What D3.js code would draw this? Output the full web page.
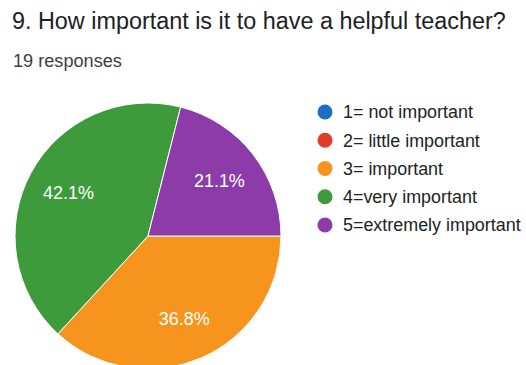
<!DOCTYPE html>
<html>
<head>
<meta charset="utf-8">
<script src="https://cdn.jsdelivr.net/npm/d3@7"></script>
<style>
  body { margin: 0; background: #fff; }
  svg { display: block; font-family: "Liberation Sans", Arial, sans-serif; }
</style>
</head>
<body>
<div id="chart"></div>
<script>
const TITLE = "9. How important is it to have a helpful teacher?";
const SUBTITLE = "19 responses";
const labels = ["1= not important", "2= little important", "3= important", "4=very important", "5=extremely important"];
const counts = [0, 0, 7, 8, 4];
const colors = ["#1e6ec5", "#e33b2a", "#f7941d", "#3e9b3c", "#8c3ba8"];

const W = 526, H = 365;
const svg = d3.select("#chart").append("svg").attr("width", W).attr("height", H);

// scale a text's font so its width matches what the reference shows
function fitSize(sel, target, base) {
  sel.attr("font-size", base);
  const w = sel.node().getComputedTextLength();
  const s = base * target / w;
  sel.attr("font-size", s);
  return s;
}

const title = svg.append("text").attr("x", 12).attr("y", 29)
  .attr("fill", "#202124").text(TITLE);
fitSize(title, 494, 20);

const sub = svg.append("text").attr("x", 13).attr("y", 67)
  .attr("fill", "#3c4043").text(SUBTITLE);
fitSize(sub, 109, 14);

const data = labels.map((l, i) => ({label: l, value: counts[i], color: colors[i]}));
const total = d3.sum(counts);

const cx = 148, cy = 236, R = 133;
const pie = d3.pie().value(d => d.value).sort(null)
  .startAngle(Math.PI / 2).endAngle(Math.PI / 2 + 2 * Math.PI);
const arc = d3.arc().innerRadius(0).outerRadius(R);
const labelArc = d3.arc().innerRadius(R * 0.68).outerRadius(R * 0.68);

const g = svg.append("g").attr("transform", `translate(${cx},${cy})`);
const arcs = pie(data).filter(d => d.data.value > 0);

g.selectAll("path").data(arcs).join("path")
  .attr("d", arc)
  .attr("fill", d => d.data.color)
  .attr("stroke", "#fff").attr("stroke-width", 1);

const pct = g.selectAll("text").data(arcs).join("text")
  .attr("transform", d => `translate(${labelArc.centroid(d)})`)
  .attr("text-anchor", "middle").attr("dy", "0.35em")
  .attr("fill", "#fff")
  .text(d => (d.data.value / total * 100).toFixed(1) + "%");
const pctSize = fitSize(d3.select(pct.nodes()[1]), 51, 16);
pct.attr("font-size", pctSize);

// legend
const ly = d3.scalePoint().domain(labels).range([112, 225]);
const leg = svg.append("g").selectAll("g").data(data).join("g")
  .attr("transform", d => `translate(325,${ly(d.label)})`);
leg.append("circle").attr("r", 7.5).attr("fill", d => d.color);
const legText = leg.append("text").attr("x", 18).attr("dy", "0.35em")
  .attr("fill", "#222")
  .text(d => d.label);
const legSize = fitSize(d3.select(legText.nodes()[0]), 130, 15);
legText.attr("font-size", legSize);
</script>
</body>
</html>
